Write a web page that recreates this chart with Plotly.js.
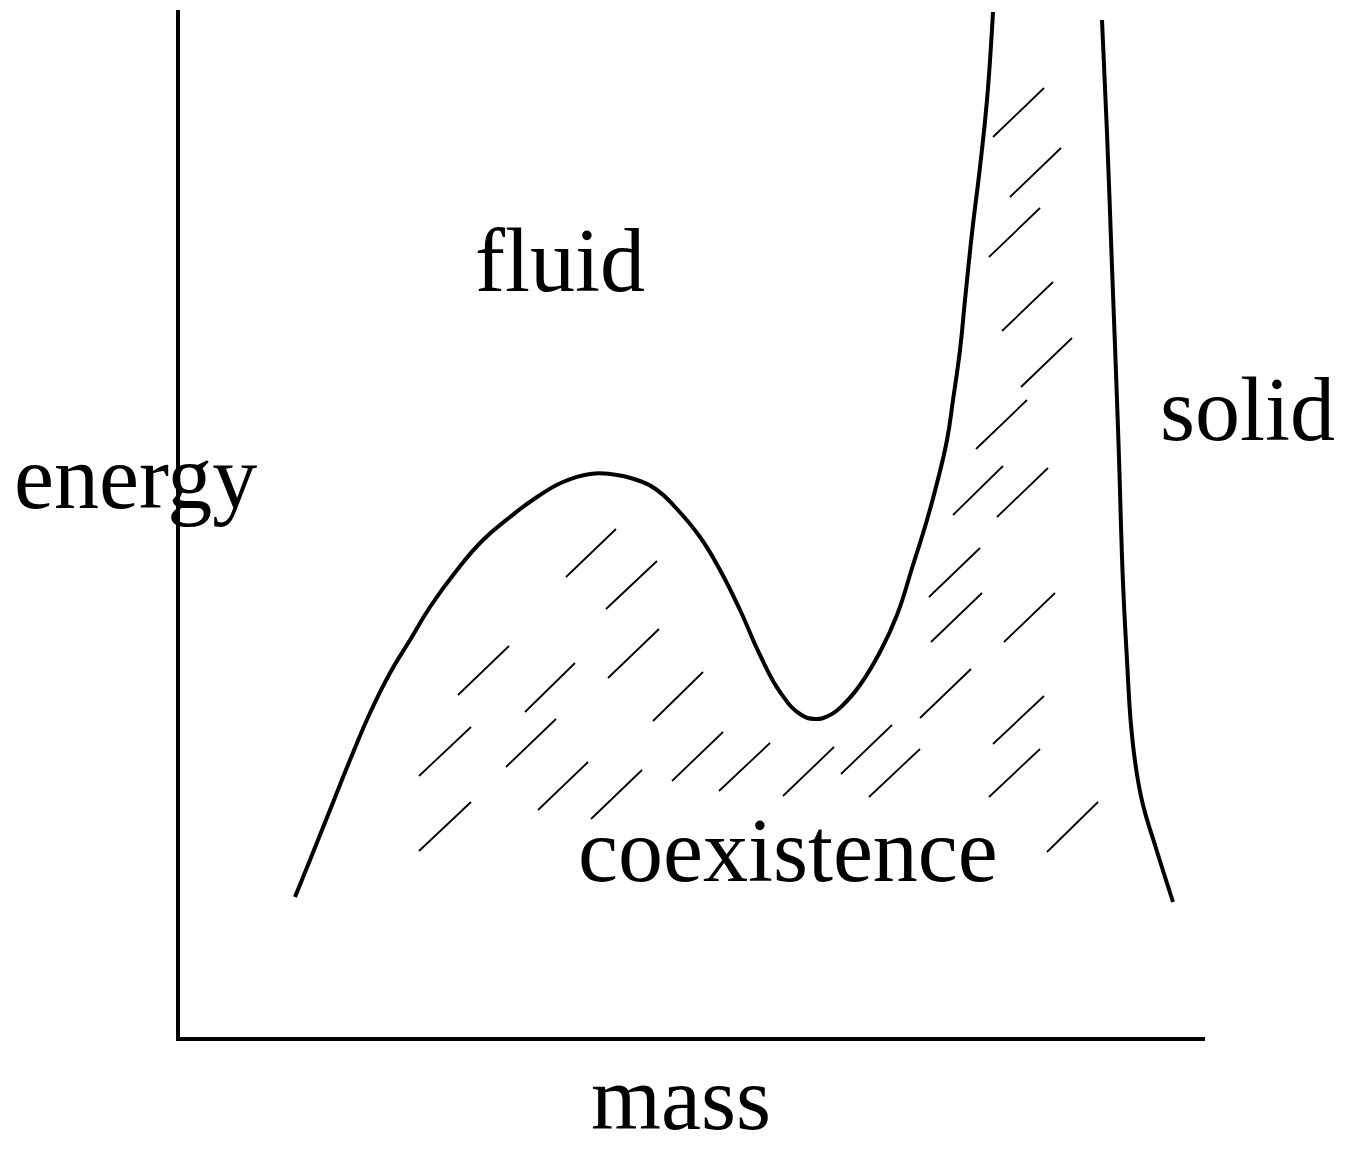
<!DOCTYPE html>
<html>
<head>
<meta charset="utf-8">
<script src="https://cdn.plot.ly/plotly-3.0.1.min.js"></script>
<style>html,body{margin:0;padding:0;background:#fff;}#chart{width:1348px;height:1152px;}</style>
</head>
<body>
<div id="chart"></div>
<script>
// Fluid / coexistence boundary (mass, energy)
const fluidMass   = [115,130,150,170,190,210,230,250,277,303,330,357,383,410,430,457,477,495,520,540,560,580,600,620,635,650,665,680,700,717,733,747,757,767,773,780,785,792,800,807,813];
const fluidEnergy = [140,177,227,277,324,364,397,430,467,497,520,540,555,563,563,557,547,530,500,467,427,382,345,323,318,322,334,352,385,422,472,517,554,597,637,687,737,804,870,937,1025];
// Solid boundary
const solidMass   = [922,927,932,937,939,943,947,951,956,963,975,993];
const solidEnergy = [1017,904,770,637,579,454,377,312,269,232,192,135];
// Hatch strokes in the coexistence region: start and end points
const hatchMass0   = [386,426,278,345,428,473,239,326,358,411,492,239,539,603,661,689,740,813,809,867,773,817,749,751,824,813,830,809,822,841,796];
const hatchEnergy0 = [460,428,342,325,359,316,261,270,227,218,256,186,246,241,263,240,319,293,240,185,522,520,440,395,395,900,840,780,706,650,588];
const hatchMass1   = [436,477,329,395,479,523,291,376,408,462,543,291,590,654,712,740,791,864,860,918,823,868,800,802,875,864,881,860,873,892,847];
const hatchEnergy1 = [508,476,391,374,408,365,310,318,275,267,305,235,294,290,312,288,368,341,288,235,571,569,489,444,444,949,889,829,755,699,637];
// Region labels (positions in the same mass/energy units)
const labelText   = ["fluid","solid","energy","coexistence","mass"];
const labelMass   = [380,1067,-45,608,501];
const labelEnergy = [777,628,560,187,-61];

const xRange = [0, 1025], yRange = [0, 1027];

const hx = [], hy = [];
for (let i = 0; i < hatchMass0.length; i++) {
  hx.push(hatchMass0[i], hatchMass1[i], null);
  hy.push(hatchEnergy0[i], hatchEnergy1[i], null);
}

const traces = [
  {x: hx, y: hy, mode: 'lines', line: {color: '#000', width: 1.8}, hoverinfo: 'skip', connectgaps: false},
  {x: fluidMass, y: fluidEnergy, mode: 'lines', line: {color: '#000', width: 4, shape: 'spline', smoothing: 1.3}},
  {x: solidMass, y: solidEnergy, mode: 'lines', line: {color: '#000', width: 4, shape: 'spline', smoothing: 1.3}}
];

const font = {family: '"Liberation Serif", "Times New Roman", serif', size: 90, color: '#000'};
const annotations = labelText.map((t, i) => ({
  text: t,
  x: (labelMass[i] - xRange[0]) / (xRange[1] - xRange[0]),
  y: (labelEnergy[i] - yRange[0]) / (yRange[1] - yRange[0]),
  xref: 'paper', yref: 'paper',
  showarrow: false, xanchor: 'center', yanchor: 'middle', font: font
}));

const layout = {
  width: 1348, height: 1152,
  margin: {l: 180, r: 143, t: 10, b: 115, pad: 0},
  paper_bgcolor: '#fff', plot_bgcolor: '#fff',
  showlegend: false,
  xaxis: {range: xRange, showline: true, linecolor: '#000', linewidth: 4, showgrid: false, zeroline: false, showticklabels: false, ticks: '', mirror: false},
  yaxis: {range: yRange, showline: true, linecolor: '#000', linewidth: 4, showgrid: false, zeroline: false, showticklabels: false, ticks: '', mirror: false},
  annotations: annotations
};

Plotly.newPlot('chart', traces, layout, {displayModeBar: false, staticPlot: true});
</script>
</body>
</html>
